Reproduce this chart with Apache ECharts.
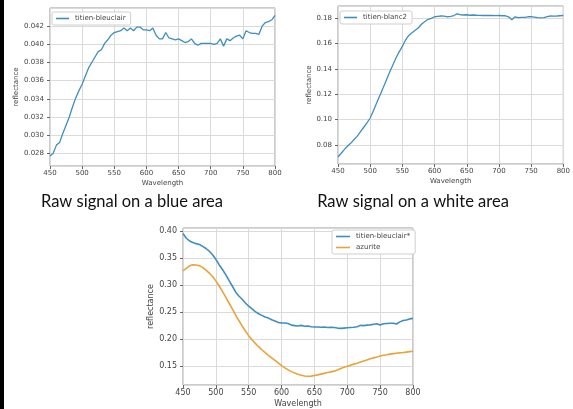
<!DOCTYPE html>
<html>
<head>
<meta charset="utf-8">
<title>Raw signal</title>
<script src="https://cdn.jsdelivr.net/npm/echarts@6/dist/echarts.min.js"></script>
<style>
  html, body { margin: 0; padding: 0; background: #fff; }
  #chart { width: 573px; height: 409px; }
</style>
</head>
<body>
<div id="chart"></div>
<script>
// wavelengths (nm), shared by all spectra
var wavelengths = [450, 455, 460, 465, 470, 475, 480, 485, 490, 495,
    500, 505, 510, 515, 520, 525, 530, 535, 540, 545,
    550, 555, 560, 565, 570, 575, 580, 585, 590, 595,
    600, 605, 610, 615, 620, 625, 630, 635, 640, 645,
    650, 655, 660, 665, 670, 675, 680, 685, 690, 695,
    700, 705, 710, 715, 720, 725, 730, 735, 740, 745,
    750, 755, 760, 765, 770, 775, 780, 785, 790, 795, 800];

// raw signal, blue area
var bleuclair = [0.0277, 0.0280, 0.0289, 0.0292, 0.0302, 0.0311, 0.0320, 0.0331, 0.0341, 0.0349,
    0.0356, 0.0365, 0.0374, 0.0380, 0.0386, 0.0392, 0.0394, 0.0401, 0.0405, 0.0410,
    0.0413, 0.0414, 0.0415, 0.0418, 0.0415, 0.0418, 0.0415, 0.0419, 0.0419, 0.0416,
    0.0416, 0.0415, 0.0418, 0.0410, 0.0406, 0.0406, 0.0413, 0.0407, 0.0406, 0.0405,
    0.0406, 0.0404, 0.0402, 0.0403, 0.0406, 0.0401, 0.0399, 0.0401, 0.0401, 0.0401,
    0.0401, 0.0400, 0.0401, 0.0406, 0.0398, 0.0406, 0.0404, 0.0407, 0.0409, 0.0410,
    0.0406, 0.0415, 0.0413, 0.0412, 0.0412, 0.0411, 0.0420, 0.0424, 0.0425, 0.0427, 0.0432];

// raw signal, white area
var blanc2 = [0.0705, 0.0735, 0.0765, 0.0792, 0.0815, 0.0843, 0.0870, 0.0905, 0.0940, 0.0975,
    0.1013, 0.1070, 0.1131, 0.1190, 0.1249, 0.1311, 0.1373, 0.1430, 0.1486, 0.1535,
    0.1578, 0.1630, 0.1665, 0.1685, 0.1705, 0.1725, 0.1755, 0.1775, 0.1792, 0.1800,
    0.1812, 0.1815, 0.1818, 0.1817, 0.1812, 0.1815, 0.1822, 0.1835, 0.1828, 0.1826,
    0.1828, 0.1824, 0.1826, 0.1824, 0.1823, 0.1822, 0.1822, 0.1822, 0.1822, 0.1821,
    0.1822, 0.1820, 0.1820, 0.1812, 0.1788, 0.1812, 0.1806, 0.1808, 0.1808, 0.1812,
    0.1813, 0.1810, 0.1806, 0.1803, 0.1806, 0.1813, 0.1818, 0.1817, 0.1818, 0.1820, 0.1822];

// corrected blue area vs azurite reference
var bleuclairCorr = [0.3957, 0.3870, 0.3820, 0.3790, 0.3770, 0.3755, 0.3720, 0.3680, 0.3630, 0.3565,
    0.3480, 0.3380, 0.3290, 0.3195, 0.3090, 0.2985, 0.2875, 0.2800, 0.2740, 0.2670,
    0.2610, 0.2560, 0.2510, 0.2470, 0.2440, 0.2410, 0.2390, 0.2360, 0.2335, 0.2310,
    0.2300, 0.2300, 0.2290, 0.2260, 0.2250, 0.2245, 0.2255, 0.2240, 0.2245, 0.2230,
    0.2225, 0.2225, 0.2220, 0.2225, 0.2215, 0.2220, 0.2215, 0.2205, 0.2200, 0.2205,
    0.2210, 0.2215, 0.2220, 0.2230, 0.2255, 0.2250, 0.2260, 0.2265, 0.2275, 0.2285,
    0.2260, 0.2285, 0.2290, 0.2295, 0.2295, 0.2280, 0.2320, 0.2345, 0.2355, 0.2375, 0.2385];

var azurite = [0.3265, 0.3310, 0.3360, 0.3380, 0.3375, 0.3360, 0.3330, 0.3280, 0.3225, 0.3160,
    0.3080, 0.2985, 0.2885, 0.2780, 0.2670, 0.2560, 0.2450, 0.2345, 0.2245, 0.2150,
    0.2065, 0.1990, 0.1922, 0.1860, 0.1803, 0.1750, 0.1700, 0.1652, 0.1605, 0.1560,
    0.1510, 0.1468, 0.1430, 0.1398, 0.1372, 0.1350, 0.1332, 0.1318, 0.1312, 0.1315,
    0.1325, 0.1338, 0.1352, 0.1366, 0.1380, 0.1393, 0.1407, 0.1428, 0.1455, 0.1478,
    0.1498, 0.1518, 0.1537, 0.1555, 0.1575, 0.1595, 0.1615, 0.1635, 0.1653, 0.1670,
    0.1688, 0.1700, 0.1710, 0.1722, 0.1731, 0.1738, 0.1745, 0.1752, 0.1760, 0.1768, 0.1776];

var captions = ['Raw signal on a blue area', 'Raw signal on a white area'];

var BLUE = '#3f8fbe';
var ORANGE = '#e8a43a';
var FONT = 'DejaVu Sans';

function pairs(xs, ys) {
    var out = [];
    for (var i = 0; i < xs.length; i++) out.push([xs[i], ys[i]]);
    return out;
}

function xAxisFor(idx, fs, gap) {
    return {
        type: 'value', gridIndex: idx, min: 450, max: 800, interval: 50,
        name: 'Wavelength', nameLocation: 'middle', nameGap: gap,
        nameTextStyle: { color: '#444', fontSize: fs, fontFamily: FONT },
        axisLine: { show: false },
        axisTick: { show: true, length: 3, lineStyle: { color: '#666' } },
        axisLabel: { color: '#444', fontSize: fs, fontFamily: FONT, margin: 4 },
        splitLine: { show: true, lineStyle: { color: '#dadada', width: 1 } }
    };
}

function yAxisFor(idx, min, max, step, digits, fs, gap) {
    return {
        type: 'value', gridIndex: idx, min: min, max: max,
        minInterval: step, maxInterval: step,
        name: 'reflectance', nameLocation: 'middle', nameGap: gap,
        nameTextStyle: { color: '#444', fontSize: fs, fontFamily: FONT },
        axisLine: { show: false },
        axisTick: { show: true, length: 3, lineStyle: { color: '#666' } },
        axisLabel: {
            color: '#444', fontSize: fs, fontFamily: FONT, margin: 6,
            showMinLabel: false, showMaxLabel: false,
            formatter: function (v) { return v.toFixed(digits); }
        },
        splitLine: { show: true, lineStyle: { color: '#dadada', width: 1 } }
    };
}

function legendFor(names, left, top, fs, w, orient) {
    return {
        data: names, left: left, top: top, orient: orient,
        icon: 'rect', itemWidth: w, itemHeight: 1.6, itemGap: 4,
        padding: [3, 5, 3, 4],
        backgroundColor: '#fff', borderColor: '#cfcfcf', borderWidth: 1, borderRadius: 2,
        textStyle: { color: '#444', fontSize: fs, fontFamily: FONT, padding: [0, 0, 0, 1] },
        selectedMode: false
    };
}

var chart = echarts.init(document.getElementById('chart'));

chart.setOption({
    backgroundColor: '#fff',
    animation: false,
    grid: [
        { left: 50, top: 8, width: 225, height: 158, show: true, borderColor: '#999', borderWidth: 1, backgroundColor: '#fff' },
        { left: 338, top: 6, width: 229, height: 158, show: true, borderColor: '#999', borderWidth: 1, backgroundColor: '#fff' },
        { left: 183, top: 228, width: 230, height: 159, show: true, borderColor: '#999', borderWidth: 1, backgroundColor: '#fff' }
    ],
    xAxis: [
        xAxisFor(0, 7, 14),
        xAxisFor(1, 7, 14),
        xAxisFor(2, 8, 15)
    ],
    yAxis: [
        yAxisFor(0, 0.0266, 0.0440, 0.002, 3, 7, 30),
        yAxisFor(1, 0.065, 0.1897, 0.02, 2, 7, 25),
        yAxisFor(2, 0.115, 0.406, 0.05, 2, 8, 25)
    ],
    legend: [
        legendFor(['titien-bleuclair'], 52, 12, 7, 13, 'horizontal'),
        legendFor(['titien-blanc2'], 340, 11, 7, 13, 'horizontal'),
        legendFor(['titien-bleuclair*', 'azurite'], 332, 230, 7, 14, 'vertical')
    ],
    series: [
        {
            name: 'titien-bleuclair', type: 'line', xAxisIndex: 0, yAxisIndex: 0,
            data: pairs(wavelengths, bleuclair), showSymbol: false,
            lineStyle: { color: BLUE, width: 1.3 }, itemStyle: { color: BLUE }
        },
        {
            name: 'titien-blanc2', type: 'line', xAxisIndex: 1, yAxisIndex: 1,
            data: pairs(wavelengths, blanc2), showSymbol: false,
            lineStyle: { color: BLUE, width: 1.3 }, itemStyle: { color: BLUE }
        },
        {
            name: 'titien-bleuclair*', type: 'line', xAxisIndex: 2, yAxisIndex: 2,
            data: pairs(wavelengths, bleuclairCorr), showSymbol: false,
            lineStyle: { color: BLUE, width: 1.6 }, itemStyle: { color: BLUE }
        },
        {
            name: 'azurite', type: 'line', xAxisIndex: 2, yAxisIndex: 2,
            data: pairs(wavelengths, azurite), showSymbol: false,
            lineStyle: { color: ORANGE, width: 1.6 }, itemStyle: { color: ORANGE }
        }
    ],
    graphic: [
        { type: 'rect', left: 0, top: 0, shape: { width: 4, height: 409 }, style: { fill: '#000' } },
        {
            type: 'text', x: 132, y: 202,
            style: { text: captions[0], textAlign: 'center', textVerticalAlign: 'middle', fill: '#111', font: '16.5px Lato' }
        },
        {
            type: 'text', x: 413, y: 202,
            style: { text: captions[1], textAlign: 'center', textVerticalAlign: 'middle', fill: '#111', font: '16.5px Lato' }
        }
    ]
});

window.addEventListener('resize', function () {
    try { chart.resize(); } catch (e) {}
});
</script>
</body>
</html>
